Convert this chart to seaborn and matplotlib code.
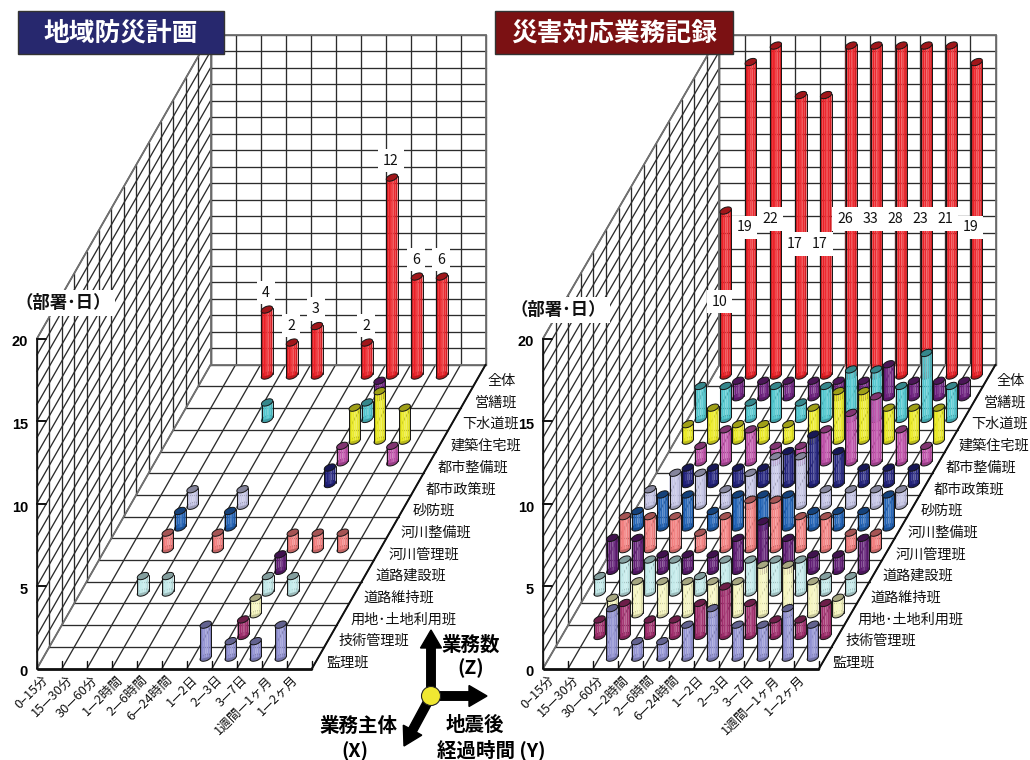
import numpy as np
import pandas as pd
import matplotlib
matplotlib.use("Agg")
import matplotlib.pyplot as plt
from matplotlib.patches import Ellipse, Polygon, Rectangle, Circle
import seaborn as sns

sns.set_theme(style="white")
plt.rcParams["font.family"] = ["Noto Sans CJK JP", "DejaVu Sans"]

time_labels = ["0–15分", "15—30分", "30—60分", "1—2時間", "2—6時間", "6—24時間",
               "1—2日", "2—3日", "3—7日", "1週間—1ヶ月", "1—2ヶ月"]
dept_labels = ["監理班", "技術管理班", "用地･土地利用班", "道路維持班", "道路建設班",
               "河川管理班", "河川整備班", "砂防班", "都市政策班", "都市整備班",
               "建築住宅班", "下水道班", "営繕班", "全体"]
dept_colors = ["#9090D2", "#A02C6C", "#F6F6BE", "#C2EAEA", "#5E1A72", "#F27C7C", "#1E60B4",
               "#C4C4E6", "#22227E", "#BE4EA8", "#EAEA22", "#4EC6CE", "#6E2080", "#EC2026"]

# Rows run from 監理班 to 営繕班, columns follow time_labels
plan_counts = [
    [0, 0, 0, 0, 0, 0, 2, 1, 1, 2, 0],
    [0, 0, 0, 0, 0, 0, 0, 1, 0, 0, 0],
    [0, 0, 0, 0, 0, 0, 0, 1, 0, 0, 0],
    [0, 0, 1, 1, 0, 0, 0, 1, 1, 0, 0],
    [0, 0, 0, 0, 0, 0, 0, 1, 0, 0, 0],
    [0, 0, 1, 0, 1, 0, 0, 1, 1, 1, 0],
    [0, 0, 1, 0, 1, 0, 0, 0, 0, 0, 0],
    [0, 0, 1, 0, 1, 0, 0, 0, 0, 0, 0],
    [0, 0, 0, 0, 0, 0, 0, 1, 0, 0, 0],
    [0, 0, 0, 0, 0, 0, 0, 1, 0, 1, 0],
    [0, 0, 0, 0, 0, 0, 0, 2, 3, 2, 0],
    [0, 0, 0, 1, 0, 0, 0, 1, 0, 0, 0],
    [0, 0, 0, 0, 0, 0, 0, 1, 0, 0, 0],
]
plan_total = [0, 0, 4, 2, 3, 0, 2, 12, 6, 6, 0]

record_counts = [
    [0, 0, 3, 1, 1, 2, 3, 2, 2, 3, 2],
    [0, 1, 2, 1, 1, 2, 3, 2, 1, 1, 2],
    [0, 1, 2, 2, 2, 2, 2, 3, 3, 2, 1],
    [1, 2, 2, 2, 1, 2, 2, 2, 2, 1, 1],
    [2, 2, 1, 1, 1, 2, 3, 2, 1, 1, 2],
    [2, 2, 2, 1, 2, 3, 3, 2, 2, 1, 1],
    [1, 2, 2, 1, 2, 2, 2, 1, 1, 1, 2],
    [1, 2, 2, 1, 2, 3, 3, 1, 1, 1, 1],
    [0, 1, 1, 1, 1, 2, 3, 2, 1, 1, 1],
    [0, 1, 2, 2, 1, 1, 2, 3, 4, 2, 1],
    [1, 2, 1, 1, 1, 2, 3, 3, 2, 2, 2],
    [2, 2, 1, 2, 1, 2, 3, 3, 2, 4, 2],
    [0, 1, 1, 1, 1, 1, 1, 2, 1, 1, 1],
]
record_total = [10, 19, 22, 17, 17, 26, 33, 28, 23, 21, 19]

Z_MAX = 20
Z_STEP = 16.5
DEPTH_DY = 21.7
BAR_HALF = 5.6
SHADES = [-0.16, 0.0, 0.05, 0.17, 0.04, -0.10]


class Oblique:
    """Oblique projection of (time, department, count) onto the page."""

    def __init__(self, x0, y0, dx, depth_dx):
        self.x0, self.y0, self.dx, self.depth_dx = x0, y0, dx, depth_dx

    def __call__(self, t, d, z=0.0):
        return (self.x0 + self.dx * t + self.depth_dx * d,
                self.y0 - DEPTH_DY * d - Z_STEP * z)


def shade(rgb, amount):
    rgb = np.array(rgb)
    return tuple(rgb + (1 - rgb) * amount if amount > 0 else rgb * (1 + amount))


def grid_frame(proj):
    """Floor and wall segments, one row per vertex, keyed by segment id."""
    nt, nd = len(time_labels), len(dept_labels)
    segs = []
    for t in range(nt + 1):
        segs.append((proj(t, 0), proj(t, nd)))
        segs.append((proj(t, nd), proj(t, nd, Z_MAX)))
    for d in range(nd + 1):
        segs.append((proj(0, d), proj(nt, d)))
        segs.append((proj(0, d), proj(0, d, Z_MAX)))
    for z in range(1, Z_MAX + 1):
        segs.append((proj(0, 0, z), proj(0, nd, z)))
        segs.append((proj(0, nd, z), proj(nt, nd, z)))
    rows = []
    for i, (a, b) in enumerate(segs):
        rows += [{"x": a[0], "y": a[1], "seg": i}, {"x": b[0], "y": b[1], "seg": i}]
    return pd.DataFrame(rows)


def draw_bar(ax, x, y0, height, color, order):
    rgb = matplotlib.colors.to_rgb(color)
    tilt = 1.5
    y1 = y0 - height
    edge = "#141414"
    ax.add_patch(Ellipse((x, y0), 12, 6.2, angle=-22, fc=shade(rgb, -0.2), ec=edge, lw=0.7, zorder=order))
    edges = np.linspace(x - BAR_HALF, x + BAR_HALF, len(SHADES) + 1)
    for left, right, amt in zip(edges[:-1], edges[1:], SHADES):
        off_l, off_r = tilt * (left - x) / BAR_HALF, tilt * (right - x) / BAR_HALF
        ax.add_patch(Polygon([(left, y0 - off_l), (right, y0 - off_r), (right, y1 - off_r), (left, y1 - off_l)],
                             fc=shade(rgb, amt), ec="none", zorder=order))
    ax.plot([x - BAR_HALF] * 2, [y0 + tilt, y1 + tilt], color=edge, lw=0.7, zorder=order)
    ax.plot([x + BAR_HALF] * 2, [y0 - tilt, y1 - tilt], color=edge, lw=0.7, zorder=order)
    ax.add_patch(Ellipse((x, y1), 12, 6.2, angle=-22, fc=shade(rgb, -0.32), ec=edge, lw=0.7, zorder=order))


def draw_panel(ax, proj, counts, total, mid_labels, dept_dx):
    nt, nd = len(time_labels), len(dept_labels)
    frame = grid_frame(proj)
    sns.lineplot(data=frame, x="x", y="y", units="seg", estimator=None, sort=False,
                 color="#2c2c2c", lw=0.95, legend=False, ax=ax, zorder=1)

    # Heavier frame on the outer edges of the walls and floor
    outline = [((0, nd, 0), (0, nd, Z_MAX)), ((0, nd, Z_MAX), (nt, nd, Z_MAX)),
               ((nt, nd, 0), (nt, nd, Z_MAX)), ((0, 0, Z_MAX), (0, nd, Z_MAX)),
               ((0, nd, 0), (nt, nd, 0)), ((0, 0, 0), (0, nd, 0))]
    for a, b in outline:
        p, q = proj(*a), proj(*b)
        ax.plot([p[0], q[0]], [p[1], q[1]], color="#707070", lw=1.3, zorder=2)
    p, q = proj(0, 0), proj(nt, 0)
    ax.plot([p[0], q[0]], [p[1], q[1]], color="#101010", lw=2.0, zorder=3, solid_capstyle="butt")
    p, q = proj(nt, 0), proj(nt, nd)
    ax.plot([p[0], q[0]], [p[1], q[1]], color="#101010", lw=1.4, zorder=3)
    p, q = proj(0, 0), proj(0, 0, Z_MAX)
    ax.plot([p[0], q[0]], [p[1], q[1]], color="#101010", lw=1.2, zorder=3)

    for t in range(nt + 1):
        x, y = proj(t, 0)
        ax.plot([x, x], [y, y - 8], color="#101010", lw=1.0, zorder=3)

    for z in range(0, Z_MAX + 1, 5):
        x, y = proj(0, 0, z)
        if z:
            ax.plot([x, x + 9], [y, y], color="#101010", lw=1.4, zorder=3)
        ax.text(x - 9, y + 4, str(z), ha="right", va="center", fontsize=10.5,
                fontfamily="Liberation Sans", fontweight="bold", color="black", zorder=60)

    for t, label in enumerate(time_labels):
        x, y = proj(t + 0.5, 0)
        ax.text(x - 8.5, y + 5, label, rotation=45, rotation_mode="anchor", ha="right", va="top",
                fontsize=9.2, color="#111111", zorder=60)

    for d, label in enumerate(dept_labels):
        x, y = proj(nt, d + 0.5)
        ax.text(x + dept_dx, y + 5, label, ha="left", va="center", fontsize=10.2,
                color="#111111", zorder=60)

    rows = [*counts, total]
    order = 10
    for d in range(nd - 1, -1, -1):
        for t in range(nt):
            value = rows[d][t]
            if value <= 0:
                continue
            x, y0 = proj(t + 0.5, d + 0.5)
            draw_bar(ax, x, y0, Z_STEP * min(value, Z_MAX), dept_colors[d], order)
            order += 1

    for t, value in enumerate(total):
        if value <= 0:
            continue
        capped = min(value, Z_MAX)
        if mid_labels:
            x, y = proj(t + 0.5, nd - 0.5, capped / 2 - 0.4)
            x -= 6
            y += 2
        else:
            x, y = proj(t + 0.5, nd - 0.5, capped)
            x -= 1
            y -= 17
        ax.text(x, y, str(value), ha="center", va="center", fontsize=10.2, color="#111111", zorder=50,
                bbox=dict(fc="white", ec="none", pad=3.5))


fig = plt.figure(figsize=(10.3, 7.6), dpi=100, facecolor="white")
ax = fig.add_axes([0, 0, 1, 1])

draw_panel(ax, Oblique(37, 668.5, 25.0, 12.4), plan_counts, plan_total, False, 8)
draw_panel(ax, Oblique(543, 668.5, 25.1, 12.6), record_counts, record_total, True, 7)

# Panel titles
for (left, width, face, title) in [(18, 206, "#27286E", "地域防災計画"), (495, 238, "#7B1113", "災害対応業務記録")]:
    ax.add_patch(Rectangle((left, 11), width, 43, fc=face, ec="#333333", lw=1.0, zorder=70))
    ax.text(left + width / 2, 33, title, color="white", fontsize=18.5, fontweight="bold",
            ha="center", va="center", zorder=71)

# Unit captions
for (x, y) in [(63, 303), (558, 310)]:
    ax.text(x, y, "（部署･日）", fontsize=12.5, fontweight="bold", ha="center", va="center", color="#111111",
            zorder=65, bbox=dict(fc="white", ec="none", pad=3))

# Axis key
cx, cy = 431, 696
for dx, dy in [(0, -66), (56, 0), (-27, 50)]:
    ax.arrow(cx, cy, dx, dy, width=8.5, head_width=21, head_length=18, length_includes_head=True,
             fc="black", ec="black", zorder=72)
ax.add_patch(Circle((cx, cy), 9.5, fc="#F0E832", ec="#222222", lw=0.8, zorder=73))
for x, y, s in [(471, 645, "業務数"), (471, 668, "(Z)"), (358, 726, "業務主体"), (355, 751, "(X)"),
                (475, 725, "地震後"), (491, 750, "経過時間 (Y)")]:
    ax.text(x, y, s, fontsize=14, fontweight="bold", ha="center", va="center", color="black", zorder=74)

ax.set_xlim(0, 1030)
ax.set_ylim(760, 0)
ax.set_axis_off()
sns.despine(ax=ax, left=True, bottom=True)
fig.savefig("out.png", dpi=100, facecolor="white")
